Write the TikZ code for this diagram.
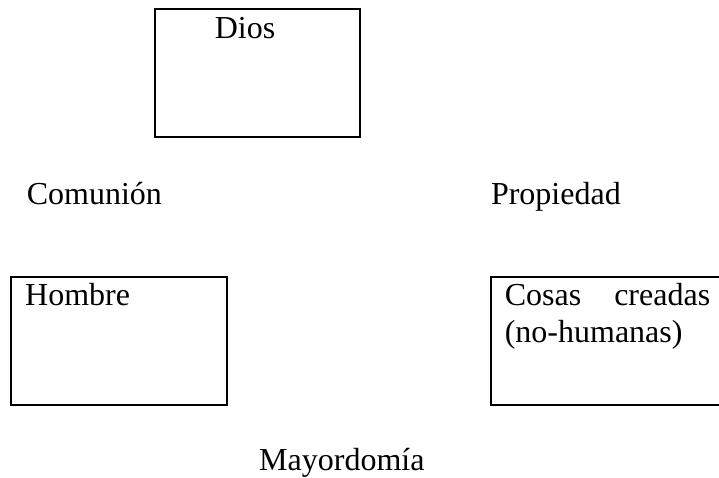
\documentclass[tikz,border=0pt]{standalone}
\usepackage{fontspec}
\setmainfont{Liberation Serif}
\usetikzlibrary{positioning}
\tikzset{
    block/.style = {draw, rectangle, line width=2pt, inner sep=0pt,
        minimum height=128.6pt, anchor=north west},
    txt/.style = {inner sep=0pt, font=\fontsize{32}{37.4}\selectfont},
    boxtxt/.style = {txt, align=left}
}

\begin{document}
\begin{tikzpicture}[x=1pt, y=-1pt]
        \useasboundingbox (0,0) rectangle (719,478);
        % the three boxes
        \node [block, minimum width=205.4pt, name=dios] at (153.6,7.7) {};
        \node [block, minimum width=216.4pt, name=hombre] at (9.6,275.5) {};
        \node [block, minimum width=236pt, name=cosas] at (490,275.5) {};
        % texts inside the boxes
        \node [boxtxt, below right=30.7pt and 61pt of dios.north west, anchor=base west, name=diostxt] {Dios};
        \node [boxtxt, below right=29.5pt and 15.4pt of hombre.north west, anchor=base west, name=hombretxt] {Hombre};
        \node [boxtxt, text width=205.4pt, below right=29.5pt and 14.6pt of cosas.north west, anchor=base west, name=cosastxt] {Cosas\hfill creadas\\(no-humanas)};
        % relations
        \node [txt, anchor=base west, name=comunion] at (26.6,204.4) {Comunión};
        \node [txt, anchor=base west, name=propiedad] at (490.8,204.4) {Propiedad};
        \node [txt, anchor=base west, name=mayordomia] at (259,470) {Mayordomía};
\end{tikzpicture}
\end{document}
